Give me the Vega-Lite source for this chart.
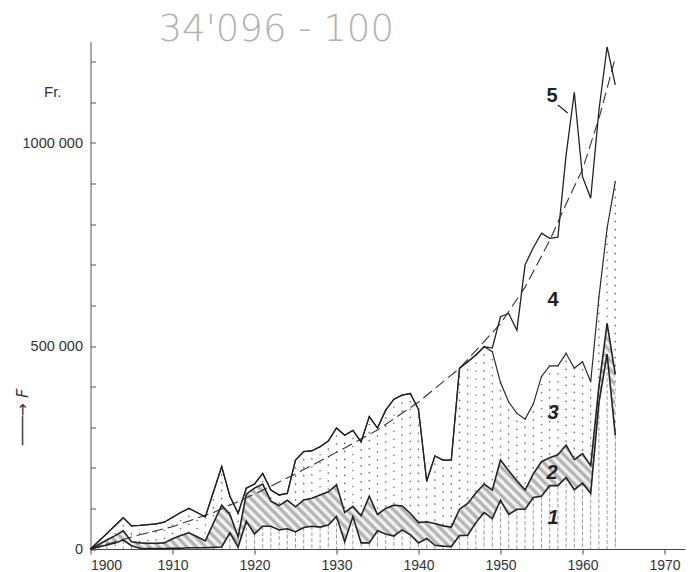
{
  "$schema": "https://vega.github.io/schema/vega-lite/v6.json",
  "width": 594.5,
  "height": 507.5,
  "autosize": "none",
  "padding": {"left": 90.5, "top": 41.5, "right": 9, "bottom": 23},
  "background": "white",
  "config": {"view": {"stroke": null}, "axis": {"grid": false}},
  "datasets": {
    "main": [
      {"year": 1900, "l1": 0, "l2": 0, "l3": 0, "l5": 0},
      {"year": 1901, "l1": 5000, "l2": 11000, "l3": 19000, "l5": 19000},
      {"year": 1902, "l1": 10000, "l2": 22000, "l3": 38000, "l5": 38000},
      {"year": 1903, "l1": 15000, "l2": 33000, "l3": 58000, "l5": 58000},
      {"year": 1904, "l1": 22000, "l2": 45000, "l3": 77000, "l5": 77000},
      {"year": 1905, "l1": 8000, "l2": 18000, "l3": 57000, "l5": 57000},
      {"year": 1906, "l1": 2000, "l2": 15000, "l3": 58000, "l5": 58000},
      {"year": 1907, "l1": 1000, "l2": 14000, "l3": 60000, "l5": 60000},
      {"year": 1908, "l1": 1000, "l2": 14000, "l3": 62000, "l5": 62000},
      {"year": 1909, "l1": 1000, "l2": 15000, "l3": 66000, "l5": 66000},
      {"year": 1910, "l1": 2000, "l2": 25000, "l3": 78000, "l5": 78000},
      {"year": 1911, "l1": 2000, "l2": 33000, "l3": 90000, "l5": 90000},
      {"year": 1912, "l1": 3000, "l2": 40000, "l3": 100000, "l5": 100000},
      {"year": 1913, "l1": 3000, "l2": 30000, "l3": 90000, "l5": 90000},
      {"year": 1914, "l1": 3000, "l2": 20000, "l3": 79000, "l5": 79000},
      {"year": 1915, "l1": 4000, "l2": 64000, "l3": 141000, "l5": 141000},
      {"year": 1916, "l1": 5000, "l2": 108000, "l3": 203000, "l5": 203000},
      {"year": 1917, "l1": 40000, "l2": 85000, "l3": 130000, "l5": 130000},
      {"year": 1918, "l1": 5000, "l2": 30000, "l3": 88000, "l5": 88000},
      {"year": 1919, "l1": 68000, "l2": 135000, "l3": 150000, "l5": 150000},
      {"year": 1920, "l1": 37000, "l2": 150000, "l3": 160000, "l5": 160000},
      {"year": 1921, "l1": 56000, "l2": 160000, "l3": 186000, "l5": 186000},
      {"year": 1922, "l1": 56000, "l2": 118000, "l3": 145000, "l5": 145000},
      {"year": 1923, "l1": 47000, "l2": 107000, "l3": 133000, "l5": 133000},
      {"year": 1924, "l1": 50000, "l2": 120000, "l3": 137000, "l5": 137000},
      {"year": 1925, "l1": 42000, "l2": 104000, "l3": 219000, "l5": 219000},
      {"year": 1926, "l1": 53000, "l2": 121000, "l3": 240000, "l5": 240000},
      {"year": 1927, "l1": 56000, "l2": 125000, "l3": 242000, "l5": 242000},
      {"year": 1928, "l1": 54000, "l2": 133000, "l3": 252000, "l5": 252000},
      {"year": 1929, "l1": 59000, "l2": 141000, "l3": 266000, "l5": 266000},
      {"year": 1930, "l1": 80000, "l2": 158000, "l3": 298000, "l5": 298000},
      {"year": 1931, "l1": 18000, "l2": 90000, "l3": 280000, "l5": 280000},
      {"year": 1932, "l1": 80000, "l2": 105000, "l3": 292000, "l5": 292000},
      {"year": 1933, "l1": 15000, "l2": 82000, "l3": 264000, "l5": 264000},
      {"year": 1934, "l1": 15000, "l2": 130000, "l3": 326000, "l5": 326000},
      {"year": 1935, "l1": 45000, "l2": 85000, "l3": 298000, "l5": 298000},
      {"year": 1936, "l1": 37000, "l2": 100000, "l3": 342000, "l5": 342000},
      {"year": 1937, "l1": 32000, "l2": 108000, "l3": 369000, "l5": 369000},
      {"year": 1938, "l1": 47000, "l2": 106000, "l3": 379000, "l5": 379000},
      {"year": 1939, "l1": 35000, "l2": 88000, "l3": 383000, "l5": 383000},
      {"year": 1940, "l1": 15000, "l2": 65000, "l3": 344000, "l5": 344000},
      {"year": 1941, "l1": 26000, "l2": 67000, "l3": 167000, "l5": 167000},
      {"year": 1942, "l1": 9000, "l2": 63000, "l3": 229000, "l5": 229000},
      {"year": 1943, "l1": 7000, "l2": 57000, "l3": 219000, "l5": 219000},
      {"year": 1944, "l1": 6000, "l2": 54000, "l3": 219000, "l5": 219000},
      {"year": 1945, "l1": 33000, "l2": 98000, "l3": 445000, "l5": 445000},
      {"year": 1946, "l1": 34000, "l2": 112000, "l3": 461000, "l5": 461000},
      {"year": 1947, "l1": 65000, "l2": 138000, "l3": 478000, "l5": 478000},
      {"year": 1948, "l1": 90000, "l2": 160000, "l3": 498000, "l5": 498000},
      {"year": 1949, "l1": 75000, "l2": 145000, "l3": 486000, "l5": 495000},
      {"year": 1950, "l1": 120000, "l2": 219000, "l3": 410000, "l5": 572000},
      {"year": 1951, "l1": 85000, "l2": 193000, "l3": 362000, "l5": 580000},
      {"year": 1952, "l1": 98000, "l2": 168000, "l3": 334000, "l5": 539000},
      {"year": 1953, "l1": 98000, "l2": 145000, "l3": 320000, "l5": 700000},
      {"year": 1954, "l1": 127000, "l2": 185000, "l3": 357000, "l5": 742000},
      {"year": 1955, "l1": 130000, "l2": 215000, "l3": 425000, "l5": 778000},
      {"year": 1956, "l1": 156000, "l2": 225000, "l3": 451000, "l5": 765000},
      {"year": 1957, "l1": 156000, "l2": 232000, "l3": 451000, "l5": 768000},
      {"year": 1958, "l1": 176000, "l2": 256000, "l3": 482000, "l5": 970000},
      {"year": 1959, "l1": 146000, "l2": 220000, "l3": 445000, "l5": 1125000},
      {"year": 1960, "l1": 162000, "l2": 235000, "l3": 461000, "l5": 917000},
      {"year": 1961, "l1": 137000, "l2": 205000, "l3": 412000, "l5": 864000},
      {"year": 1962, "l1": 360000, "l2": 400000, "l3": 620000, "l5": 1080000},
      {"year": 1963, "l1": 480000, "l2": 556000, "l3": 790000, "l5": 1237000},
      {"year": 1964, "l1": 280000, "l2": 430000, "l3": 905000, "l5": 1143000}
    ],
    "trend": [
      {"year": 1900, "v": 0},
      {"year": 1903, "v": 18000},
      {"year": 1906, "v": 35000},
      {"year": 1910, "v": 55000},
      {"year": 1915, "v": 90000},
      {"year": 1920, "v": 135000},
      {"year": 1925, "v": 185000},
      {"year": 1930, "v": 238000},
      {"year": 1935, "v": 293000},
      {"year": 1940, "v": 362000},
      {"year": 1945, "v": 445000},
      {"year": 1950, "v": 555000},
      {"year": 1953, "v": 645000},
      {"year": 1956, "v": 760000},
      {"year": 1958, "v": 850000},
      {"year": 1960, "v": 935000},
      {"year": 1962, "v": 1060000},
      {"year": 1964, "v": 1210000}
    ]
  },
  "layer": [
    {
      "data": {"name": "main"},
      "mark": {"type": "rule", "strokeDash": [0.1, 7.9], "strokeCap": "round", "strokeWidth": 1.6, "color": "#6a6a6a"},
      "encoding": {
        "x": {"field": "year", "type": "quantitative", "scale": {"domain": [1900, 1972.5], "nice": false, "zero": false},
          "axis": {"values": [1900, 1910, 1920, 1930, 1940, 1950, 1960, 1970], "format": "d", "title": null, "tickSize": 5, "labelPadding": 4, "domainColor": "#444444", "tickColor": "#444444", "domainWidth": 1.2, "labelFont": "Liberation Sans", "labelFontSize": 14, "labelColor": "#333333"}},
        "y": {"field": "l3", "type": "quantitative", "scale": {"domain": [0, 1250000], "nice": false},
          "axis": {"values": [0, 100000, 200000, 300000, 400000, 500000, 600000, 700000, 800000, 900000, 1000000, 1100000, 1200000],
            "labelExpr": "datum.value == 0 ? '0' : datum.value == 500000 ? '500 000' : datum.value == 1000000 ? '1000 000' : ''",
            "tickSize": -5, "labelPadding": 13, "domainColor": "#555555", "tickColor": "#555555", "domainWidth": 1, "labelFont": "Liberation Sans", "labelFontSize": 14.5, "labelColor": "#333333",
            "title": "───→  F", "titleX": -68.5, "titleY": 375, "titleAngle": -90, "titleAlign": "center", "titleBaseline": "middle", "titleFont": "DejaVu Sans", "titleFontStyle": "italic", "titleFontWeight": "normal", "titleFontSize": 16, "titleColor": "#333333"}},
        "y2": {"datum": 0}
      }
    },
    {
      "data": {"name": "main"},
      "mark": {"type": "area", "fill": {"gradient": "linear", "x1": 0, "y1": 1, "x2": 1.207, "y2": 0.481, "stops": [
        {"offset": 0, "color": "#ffffff"}, {"offset": 0.00625, "color": "#a6a6a6"}, {"offset": 0.0125, "color": "#ffffff"}, {"offset": 0.01875, "color": "#a6a6a6"},
        {"offset": 0.025, "color": "#ffffff"}, {"offset": 0.03125, "color": "#a6a6a6"}, {"offset": 0.0375, "color": "#ffffff"}, {"offset": 0.04375, "color": "#a6a6a6"},
        {"offset": 0.05, "color": "#ffffff"}, {"offset": 0.05625, "color": "#a6a6a6"}, {"offset": 0.0625, "color": "#ffffff"}, {"offset": 0.06875, "color": "#a6a6a6"},
        {"offset": 0.075, "color": "#ffffff"}, {"offset": 0.08125, "color": "#a6a6a6"}, {"offset": 0.0875, "color": "#ffffff"}, {"offset": 0.09375, "color": "#a6a6a6"},
        {"offset": 0.1, "color": "#ffffff"}, {"offset": 0.10625, "color": "#a6a6a6"}, {"offset": 0.1125, "color": "#ffffff"}, {"offset": 0.11875, "color": "#a6a6a6"},
        {"offset": 0.125, "color": "#ffffff"}, {"offset": 0.13125, "color": "#a6a6a6"}, {"offset": 0.1375, "color": "#ffffff"}, {"offset": 0.14375, "color": "#a6a6a6"},
        {"offset": 0.15, "color": "#ffffff"}, {"offset": 0.15625, "color": "#a6a6a6"}, {"offset": 0.1625, "color": "#ffffff"}, {"offset": 0.16875, "color": "#a6a6a6"},
        {"offset": 0.175, "color": "#ffffff"}, {"offset": 0.18125, "color": "#a6a6a6"}, {"offset": 0.1875, "color": "#ffffff"}, {"offset": 0.19375, "color": "#a6a6a6"},
        {"offset": 0.2, "color": "#ffffff"}, {"offset": 0.20625, "color": "#a6a6a6"}, {"offset": 0.2125, "color": "#ffffff"}, {"offset": 0.21875, "color": "#a6a6a6"},
        {"offset": 0.225, "color": "#ffffff"}, {"offset": 0.23125, "color": "#a6a6a6"}, {"offset": 0.2375, "color": "#ffffff"}, {"offset": 0.24375, "color": "#a6a6a6"},
        {"offset": 0.25, "color": "#ffffff"}, {"offset": 0.25625, "color": "#a6a6a6"}, {"offset": 0.2625, "color": "#ffffff"}, {"offset": 0.26875, "color": "#a6a6a6"},
        {"offset": 0.275, "color": "#ffffff"}, {"offset": 0.28125, "color": "#a6a6a6"}, {"offset": 0.2875, "color": "#ffffff"}, {"offset": 0.29375, "color": "#a6a6a6"},
        {"offset": 0.3, "color": "#ffffff"}, {"offset": 0.30625, "color": "#a6a6a6"}, {"offset": 0.3125, "color": "#ffffff"}, {"offset": 0.31875, "color": "#a6a6a6"},
        {"offset": 0.325, "color": "#ffffff"}, {"offset": 0.33125, "color": "#a6a6a6"}, {"offset": 0.3375, "color": "#ffffff"}, {"offset": 0.34375, "color": "#a6a6a6"},
        {"offset": 0.35, "color": "#ffffff"}, {"offset": 0.35625, "color": "#a6a6a6"}, {"offset": 0.3625, "color": "#ffffff"}, {"offset": 0.36875, "color": "#a6a6a6"},
        {"offset": 0.375, "color": "#ffffff"}, {"offset": 0.38125, "color": "#a6a6a6"}, {"offset": 0.3875, "color": "#ffffff"}, {"offset": 0.39375, "color": "#a6a6a6"},
        {"offset": 0.4, "color": "#ffffff"}, {"offset": 0.40625, "color": "#a6a6a6"}, {"offset": 0.4125, "color": "#ffffff"}, {"offset": 0.41875, "color": "#a6a6a6"},
        {"offset": 0.425, "color": "#ffffff"}, {"offset": 0.43125, "color": "#a6a6a6"}, {"offset": 0.4375, "color": "#ffffff"}, {"offset": 0.44375, "color": "#a6a6a6"},
        {"offset": 0.45, "color": "#ffffff"}, {"offset": 0.45625, "color": "#a6a6a6"}, {"offset": 0.4625, "color": "#ffffff"}, {"offset": 0.46875, "color": "#a6a6a6"},
        {"offset": 0.475, "color": "#ffffff"}, {"offset": 0.48125, "color": "#a6a6a6"}, {"offset": 0.4875, "color": "#ffffff"}, {"offset": 0.49375, "color": "#a6a6a6"},
        {"offset": 0.5, "color": "#ffffff"}, {"offset": 0.50625, "color": "#a6a6a6"}, {"offset": 0.5125, "color": "#ffffff"}, {"offset": 0.51875, "color": "#a6a6a6"},
        {"offset": 0.525, "color": "#ffffff"}, {"offset": 0.53125, "color": "#a6a6a6"}, {"offset": 0.5375, "color": "#ffffff"}, {"offset": 0.54375, "color": "#a6a6a6"},
        {"offset": 0.55, "color": "#ffffff"}, {"offset": 0.55625, "color": "#a6a6a6"}, {"offset": 0.5625, "color": "#ffffff"}, {"offset": 0.56875, "color": "#a6a6a6"},
        {"offset": 0.575, "color": "#ffffff"}, {"offset": 0.58125, "color": "#a6a6a6"}, {"offset": 0.5875, "color": "#ffffff"}, {"offset": 0.59375, "color": "#a6a6a6"},
        {"offset": 0.6, "color": "#ffffff"}, {"offset": 0.60625, "color": "#a6a6a6"}, {"offset": 0.6125, "color": "#ffffff"}, {"offset": 0.61875, "color": "#a6a6a6"},
        {"offset": 0.625, "color": "#ffffff"}, {"offset": 0.63125, "color": "#a6a6a6"}, {"offset": 0.6375, "color": "#ffffff"}, {"offset": 0.64375, "color": "#a6a6a6"},
        {"offset": 0.65, "color": "#ffffff"}, {"offset": 0.65625, "color": "#a6a6a6"}, {"offset": 0.6625, "color": "#ffffff"}, {"offset": 0.66875, "color": "#a6a6a6"},
        {"offset": 0.675, "color": "#ffffff"}, {"offset": 0.68125, "color": "#a6a6a6"}, {"offset": 0.6875, "color": "#ffffff"}, {"offset": 0.69375, "color": "#a6a6a6"},
        {"offset": 0.7, "color": "#ffffff"}, {"offset": 0.70625, "color": "#a6a6a6"}, {"offset": 0.7125, "color": "#ffffff"}, {"offset": 0.71875, "color": "#a6a6a6"},
        {"offset": 0.725, "color": "#ffffff"}, {"offset": 0.73125, "color": "#a6a6a6"}, {"offset": 0.7375, "color": "#ffffff"}, {"offset": 0.74375, "color": "#a6a6a6"},
        {"offset": 0.75, "color": "#ffffff"}, {"offset": 0.75625, "color": "#a6a6a6"}, {"offset": 0.7625, "color": "#ffffff"}, {"offset": 0.76875, "color": "#a6a6a6"},
        {"offset": 0.775, "color": "#ffffff"}, {"offset": 0.78125, "color": "#a6a6a6"}, {"offset": 0.7875, "color": "#ffffff"}, {"offset": 0.79375, "color": "#a6a6a6"},
        {"offset": 0.8, "color": "#ffffff"}, {"offset": 0.80625, "color": "#a6a6a6"}, {"offset": 0.8125, "color": "#ffffff"}, {"offset": 0.81875, "color": "#a6a6a6"},
        {"offset": 0.825, "color": "#ffffff"}, {"offset": 0.83125, "color": "#a6a6a6"}, {"offset": 0.8375, "color": "#ffffff"}, {"offset": 0.84375, "color": "#a6a6a6"},
        {"offset": 0.85, "color": "#ffffff"}, {"offset": 0.85625, "color": "#a6a6a6"}, {"offset": 0.8625, "color": "#ffffff"}, {"offset": 0.86875, "color": "#a6a6a6"},
        {"offset": 0.875, "color": "#ffffff"}, {"offset": 0.88125, "color": "#a6a6a6"}, {"offset": 0.8875, "color": "#ffffff"}, {"offset": 0.89375, "color": "#a6a6a6"},
        {"offset": 0.9, "color": "#ffffff"}, {"offset": 0.90625, "color": "#a6a6a6"}, {"offset": 0.9125, "color": "#ffffff"}, {"offset": 0.91875, "color": "#a6a6a6"},
        {"offset": 0.925, "color": "#ffffff"}, {"offset": 0.93125, "color": "#a6a6a6"}, {"offset": 0.9375, "color": "#ffffff"}, {"offset": 0.94375, "color": "#a6a6a6"},
        {"offset": 0.95, "color": "#ffffff"}, {"offset": 0.95625, "color": "#a6a6a6"}, {"offset": 0.9625, "color": "#ffffff"}, {"offset": 0.96875, "color": "#a6a6a6"},
        {"offset": 0.975, "color": "#ffffff"}, {"offset": 0.98125, "color": "#a6a6a6"}, {"offset": 0.9875, "color": "#ffffff"}, {"offset": 0.99375, "color": "#a6a6a6"},
        {"offset": 1, "color": "#ffffff"}]}},
      "encoding": {
        "x": {"field": "year", "type": "quantitative"},
        "y": {"field": "l2", "type": "quantitative"},
        "y2": {"field": "l1"}
      }
    },
    {
      "data": {"name": "main"},
      "mark": {"type": "area", "fill": "white"},
      "encoding": {
        "x": {"field": "year", "type": "quantitative"},
        "y": {"field": "l1", "type": "quantitative"}
      }
    },
    {
      "data": {"name": "main"},
      "mark": {"type": "rule", "strokeDash": [4, 2], "strokeWidth": 0.9, "color": "#909090"},
      "encoding": {
        "x": {"field": "year", "type": "quantitative"},
        "y": {"field": "l1", "type": "quantitative"},
        "y2": {"datum": 0}
      }
    },
    {
      "data": {"name": "trend"},
      "mark": {"type": "line", "strokeDash": [11, 5], "strokeWidth": 1.1, "color": "#333333"},
      "encoding": {
        "x": {"field": "year", "type": "quantitative"},
        "y": {"field": "v", "type": "quantitative"}
      }
    },
    {
      "data": {"name": "main"},
      "mark": {"type": "line", "strokeWidth": 1.6, "color": "#222222"},
      "encoding": {
        "x": {"field": "year", "type": "quantitative"},
        "y": {"field": "l1", "type": "quantitative"}
      }
    },
    {
      "data": {"name": "main"},
      "mark": {"type": "line", "strokeWidth": 1.6, "color": "#222222"},
      "encoding": {
        "x": {"field": "year", "type": "quantitative"},
        "y": {"field": "l2", "type": "quantitative"}
      }
    },
    {
      "data": {"name": "main"},
      "mark": {"type": "line", "strokeWidth": 1.2, "color": "#2a2a2a"},
      "encoding": {
        "x": {"field": "year", "type": "quantitative"},
        "y": {"field": "l3", "type": "quantitative"}
      }
    },
    {
      "data": {"name": "main"},
      "mark": {"type": "line", "strokeWidth": 1.3, "color": "#222222"},
      "encoding": {
        "x": {"field": "year", "type": "quantitative"},
        "y": {"field": "l5", "type": "quantitative"}
      }
    },
    {
      "data": {"values": [{}]},
      "mark": {"type": "text", "text": "Fr.", "font": "Liberation Sans", "fontSize": 15, "color": "#333333", "align": "center", "baseline": "middle"},
      "encoding": {"x": {"datum": 1895.4, "type": "quantitative"}, "y": {"datum": 1125600, "type": "quantitative"}}
    },
    {
      "data": {"values": [{}]},
      "mark": {"type": "text", "text": "34'096 - 100", "font": "DejaVu Sans", "fontWeight": 200, "fontSize": 37, "color": "#b2b2b2", "align": "left", "baseline": "middle"},
      "encoding": {"x": {"datum": 1908.3, "type": "quantitative"}, "y": {"datum": 1278000, "type": "quantitative"}}
    },
    {
      "data": {"values": [{}]},
      "mark": {"type": "text", "text": "5", "font": "Liberation Sans", "fontWeight": "bold", "fontSize": 20, "color": "#222222", "align": "center", "baseline": "middle"},
      "encoding": {"x": {"datum": 1956.3, "type": "quantitative"}, "y": {"datum": 1115800, "type": "quantitative"}}
    },
    {
      "data": {"values": [{}]},
      "mark": {"type": "rule", "strokeWidth": 1.2, "color": "#222222"},
      "encoding": {"x": {"datum": 1957.0, "type": "quantitative"}, "y": {"datum": 1093600, "type": "quantitative"}, "x2": {"datum": 1958.2}, "y2": {"datum": 1073900}}
    },
    {
      "data": {"values": [{}]},
      "mark": {"type": "text", "text": "4", "font": "Liberation Sans", "fontWeight": "bold", "fontSize": 20, "color": "#222222", "align": "center", "baseline": "middle"},
      "encoding": {"x": {"datum": 1956.4, "type": "quantitative"}, "y": {"datum": 613300, "type": "quantitative"}}
    },
    {
      "data": {"values": [{}]},
      "mark": {"type": "text", "text": "3", "font": "Liberation Sans", "fontWeight": "bold", "fontStyle": "italic", "fontSize": 20, "color": "#222222", "align": "center", "baseline": "middle"},
      "encoding": {"x": {"datum": 1956.4, "type": "quantitative"}, "y": {"datum": 335000, "type": "quantitative"}}
    },
    {
      "data": {"values": [{}]},
      "mark": {"type": "text", "text": "2", "font": "Liberation Sans", "fontWeight": "bold", "fontStyle": "italic", "fontSize": 20, "color": "#222222", "align": "center", "baseline": "middle"},
      "encoding": {"x": {"datum": 1956.3, "type": "quantitative"}, "y": {"datum": 187200, "type": "quantitative"}}
    },
    {
      "data": {"values": [{}]},
      "mark": {"type": "text", "text": "1", "font": "Liberation Sans", "fontWeight": "bold", "fontStyle": "italic", "fontSize": 20, "color": "#222222", "align": "center", "baseline": "middle"},
      "encoding": {"x": {"datum": 1956.4, "type": "quantitative"}, "y": {"datum": 76400, "type": "quantitative"}}
    }
  ]
}
